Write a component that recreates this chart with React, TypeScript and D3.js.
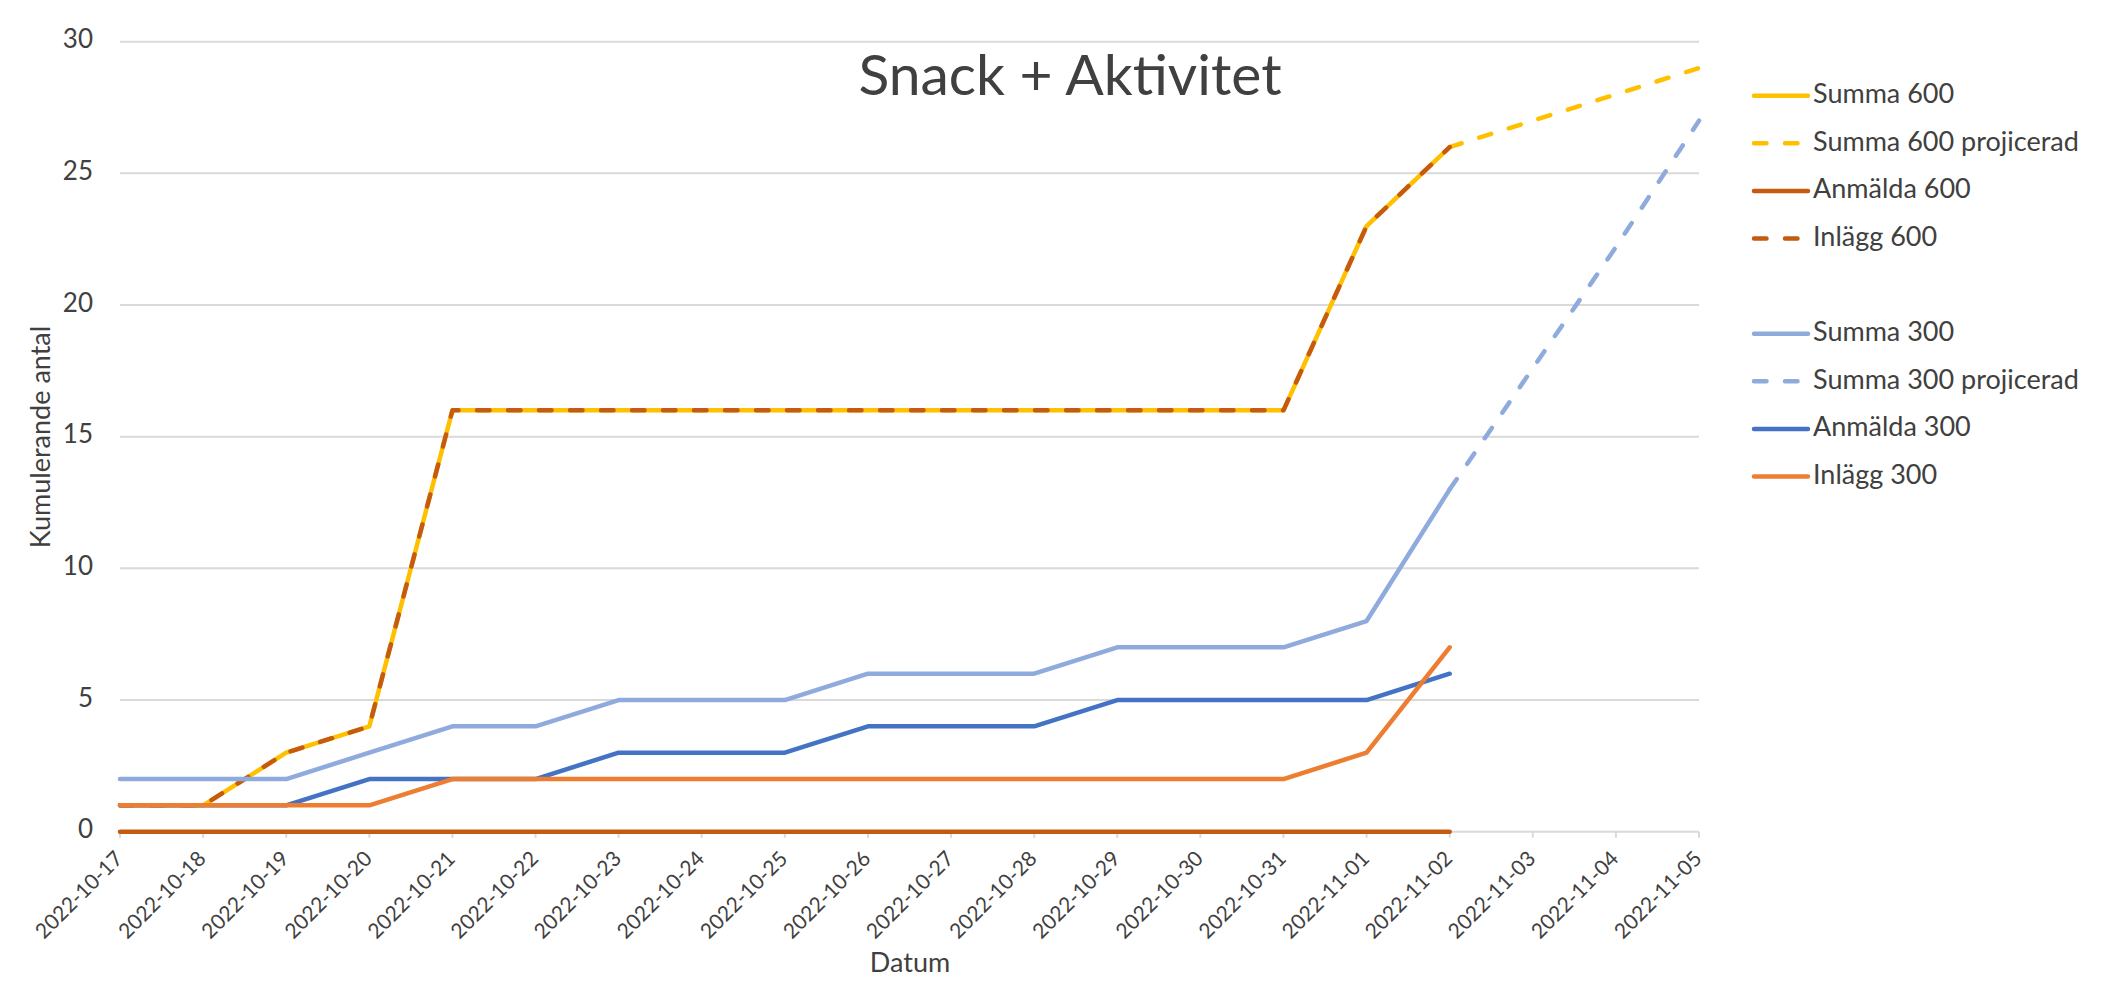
import * as d3 from "d3";

const dates = [
  "2022-10-17", "2022-10-18", "2022-10-19", "2022-10-20", "2022-10-21",
  "2022-10-22", "2022-10-23", "2022-10-24", "2022-10-25", "2022-10-26",
  "2022-10-27", "2022-10-28", "2022-10-29", "2022-10-30", "2022-10-31",
  "2022-11-01", "2022-11-02", "2022-11-03", "2022-11-04", "2022-11-05",
];

type V = number | null;

const summa600: V[] = [1, 1, 3, 4, 16, 16, 16, 16, 16, 16, 16, 16, 16, 16, 16, 23, 26];
const summa600Proj: V[] = [null, null, null, null, null, null, null, null, null, null, null, null, null, null, null, null, 26, 27, 28, 29];
const anmalda600: V[] = [0, 0, 0, 0, 0, 0, 0, 0, 0, 0, 0, 0, 0, 0, 0, 0, 0];
const inlagg600: V[] = [1, 1, 3, 4, 16, 16, 16, 16, 16, 16, 16, 16, 16, 16, 16, 23, 26];
const summa300: V[] = [2, 2, 2, 3, 4, 4, 5, 5, 5, 6, 6, 6, 7, 7, 7, 8, 13];
const summa300Proj: V[] = [null, null, null, null, null, null, null, null, null, null, null, null, null, null, null, null, 13, 17.6, 22.2, 27];
const anmalda300: V[] = [1, 1, 1, 2, 2, 2, 3, 3, 3, 4, 4, 4, 5, 5, 5, 5, 6];
const inlagg300: V[] = [1, 1, 1, 1, 2, 2, 2, 2, 2, 2, 2, 2, 2, 2, 2, 3, 7];

const yTicks = [0, 5, 10, 15, 20, 25, 30];

interface Series {
  name: string;
  values: V[];
  color: string;
  dashed: boolean;
}

// legend order = draw order; null is the empty legend slot
const series: (Series | null)[] = [
  { name: "Summa 600", values: summa600, color: "#FFC000", dashed: false },
  { name: "Summa 600 projicerad", values: summa600Proj, color: "#FFC000", dashed: true },
  { name: "Anmälda 600", values: anmalda600, color: "#C55A11", dashed: false },
  { name: "Inlägg 600", values: inlagg600, color: "#C55A11", dashed: true },
  null,
  { name: "Summa 300", values: summa300, color: "#8FAADC", dashed: false },
  { name: "Summa 300 projicerad", values: summa300Proj, color: "#8FAADC", dashed: true },
  { name: "Anmälda 300", values: anmalda300, color: "#4472C4", dashed: false },
  { name: "Inlägg 300", values: inlagg300, color: "#ED7D31", dashed: false },
];

const W = 2103;
const H = 989;
const font = "Lato, 'Open Sans', sans-serif";
const textColor = "#404040";
const gridColor = "#D9D9D9";
const lineW = 4.5;
const dash = "12.5 18.5";

export default function App() {
  const x = d3
    .scalePoint<string>()
    .domain(dates)
    .range([120, 1699]);

  const y = d3.scaleLinear().domain([0, 30]).range([831.7, 41.7]);

  const line = d3
    .line<V>()
    .defined((d) => d !== null)
    .x((_, i) => x(dates[i]) as number)
    .y((d) => y(d as number));

  const legendX = 1754;
  const legendY0 = 95.7;
  const legendStep = 47.6;

  return (
    <svg
      width={W}
      height={H}
      style={{ position: "absolute", left: 0, top: 0, background: "#fff" }}
      fontFamily={font}
    >
      <rect width={W} height={H} fill="#fff" />

      {/* Gridlines */}
      {yTicks.map((t) => (
        <line
          key={t}
          x1={x.range()[0]}
          x2={x.range()[1]}
          y1={y(t)}
          y2={y(t)}
          stroke={gridColor}
          strokeWidth={2}
        />
      ))}

      {/* X ticks */}
      {dates.map((d) => (
        <line
          key={d}
          x1={x(d)}
          x2={x(d)}
          y1={y(0)}
          y2={y(0) + 6}
          stroke={gridColor}
          strokeWidth={2}
        />
      ))}

      {/* Y labels */}
      {yTicks.map((t) => (
        <text
          key={t}
          x={93}
          y={y(t) + 6.6}
          textAnchor="end"
          fontSize={26}
          fill={textColor}
        >
          {t}
        </text>
      ))}

      {/* X labels */}
      {dates.map((d) => {
        const px = (x(d) as number) + 4;
        const py = 860;
        return (
          <text
            key={d}
            x={px}
            y={py}
            textAnchor="end"
            fontSize={21}
            fill={textColor}
            transform={`rotate(-45 ${px} ${py})`}
          >
            {d}
          </text>
        );
      })}

      {/* Lines */}
      {series.map((s, i) =>
        s ? (
          <path
            key={i}
            d={line(s.values) ?? ""}
            fill="none"
            stroke={s.color}
            strokeWidth={lineW}
            strokeLinejoin="round"
            strokeLinecap="round"
            strokeDasharray={s.dashed ? dash : undefined}
          />
        ) : null
      )}

      {/* Title */}
      <text x={1070} y={95} textAnchor="middle" fontSize={57} fill={textColor}>
        Snack + Aktivitet
      </text>

      {/* Axis titles */}
      <text x={910} y={972} textAnchor="middle" fontSize={27} fill={textColor}>
        Datum
      </text>
      <text
        x={50}
        y={437}
        textAnchor="middle"
        fontSize={27}
        fill={textColor}
        transform="rotate(-90 50 437)"
      >
        Kumulerande antal
      </text>

      {/* Legend */}
      {series.map((s, i) => {
        if (!s) return null;
        const ly = legendY0 + i * legendStep;
        return (
          <g key={i}>
            <line
              x1={legendX}
              x2={legendX + 54}
              y1={ly}
              y2={ly}
              stroke={s.color}
              strokeWidth={lineW}
              strokeLinecap="round"
              strokeDasharray={s.dashed ? dash : undefined}
            />
            <text x={legendX + 59} y={ly + 7.5} fontSize={27} fill={textColor}>
              {s.name}
            </text>
          </g>
        );
      })}
    </svg>
  );
}
